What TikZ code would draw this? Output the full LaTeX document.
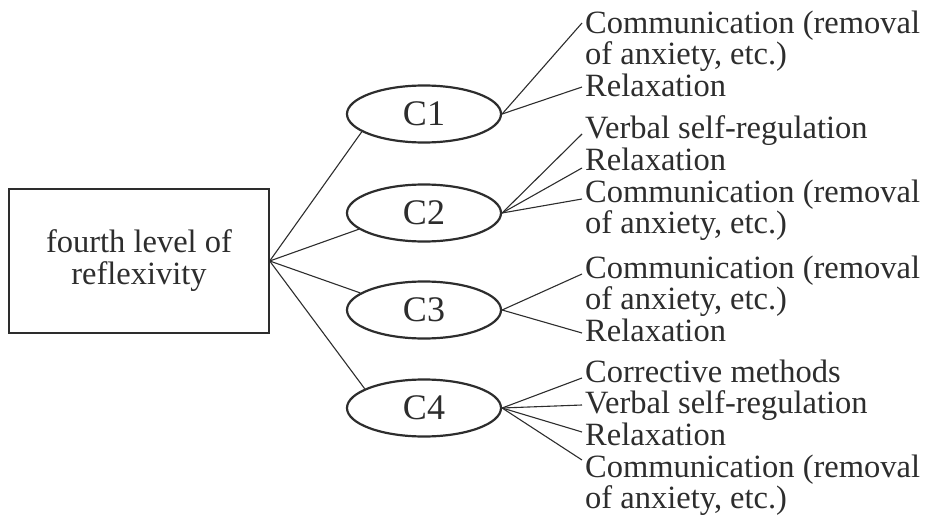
\documentclass[tikz,border=0pt]{standalone}
\usepackage{fontspec}
\setmainfont{Liberation Serif}
\usetikzlibrary{shapes.geometric}
\definecolor{ink}{RGB}{45,45,45}
\begin{document}
\begin{tikzpicture}[x=1pt,y=-1pt,
  txt/.style={inner sep=0pt, anchor=base west, align=left, text=ink, font=\fontsize{32.5}{31.5}\selectfont},
  cnode/.style={ellipse, draw=ink, line width=2.2pt, minimum width=154pt, minimum height=57pt, inner sep=0pt, text=ink, font=\fontsize{36}{36}\selectfont},
  root/.style={rectangle, draw=ink, line width=1.4pt, minimum width=260pt, minimum height=144pt, align=center, text=ink, font=\fontsize{32.5}{32}\selectfont},
  link/.style={draw=ink, line width=1.1pt}]
\useasboundingbox (0,0) rectangle (927,519);
\node[root] (box) at (139,261) {fourth level of\\reflexivity};
\node[cnode] (c1) at (424,114) {C1};
\node[cnode] (c2) at (424,213) {C2};
\node[cnode] (c3) at (424,310) {C3};
\node[cnode] (c4) at (424,408) {C4};
% items (two-line items are placed by the baseline of their last line)
\node[txt] (t11) at (585,64.5) {Communication (removal\\of anxiety, etc.)};
\node[txt] (t12) at (585,96) {Relaxation};
\node[txt] (t21) at (585,138) {Verbal self-regulation};
\node[txt] (t22) at (585,170) {Relaxation};
\node[txt] (t23) at (585,233.5) {Communication (removal\\of anxiety, etc.)};
\node[txt] (t31) at (585,309.5) {Communication (removal\\of anxiety, etc.)};
\node[txt] (t32) at (585,341) {Relaxation};
\node[txt] (t41) at (585,382) {Corrective methods};
\node[txt] (t42) at (585,413) {Verbal self-regulation};
\node[txt] (t43) at (585,445) {Relaxation};
\node[txt] (t44) at (585,508.5) {Communication (removal\\of anxiety, etc.)};
% connector ends
\coordinate (e11) at (582,23);
\coordinate (e12) at (582,87);
\coordinate (e21) at (582,134);
\coordinate (e22) at (582,168);
\coordinate (e23) at (582,199);
\coordinate (e31) at (582,274);
\coordinate (e32) at (582,333);
\coordinate (e41) at (582,378);
\coordinate (e42) at (582,405);
\coordinate (e43) at (582,432);
\coordinate (e44) at (582,460);
% root connectors
\draw[link] (box.east) -- (c1.196);
\draw[link] (box.east) -- (c2.194);
\draw[link] (box.east) -- (c3.165);
\draw[link] (box.east) -- (c4.162);
% item connectors
\draw[link] (c1.east) -- (e11);
\draw[link] (c1.east) -- (e12);
\draw[link] (c2.east) -- (e21);
\draw[link] (c2.east) -- (e22);
\draw[link] (c2.east) -- (e23);
\draw[link] (c3.east) -- (e31);
\draw[link] (c3.east) -- (e32);
\draw[link] (c4.east) -- (e41);
\draw[link] (c4.east) -- (e42);
\draw[link] (c4.east) -- (e43);
\draw[link] (c4.east) -- (e44);
\end{tikzpicture}
\end{document}
